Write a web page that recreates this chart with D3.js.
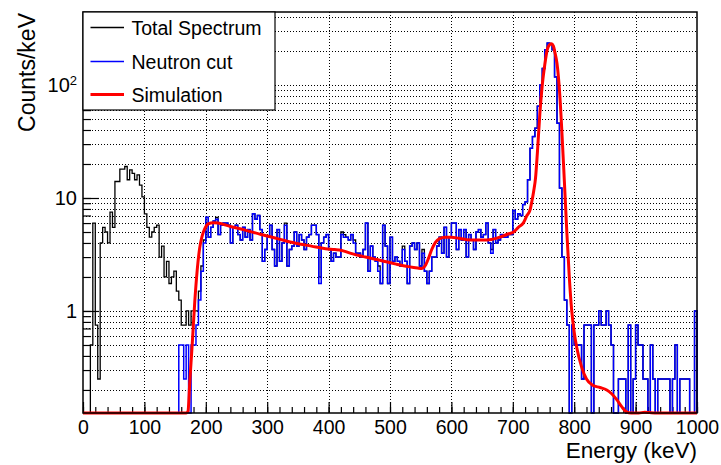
<!DOCTYPE html>
<html><head><meta charset="utf-8">
<script src="https://cdn.jsdelivr.net/npm/d3@7"></script>
<style>body{margin:0;background:#fff} svg{display:block} text{font-family:"Liberation Sans",Arial,Helvetica,sans-serif}</style>
</head><body><svg id="c" width="721" height="465"></svg>
<script>
// ---- data (counts/keV, 4 keV bins from 0 to 1000 keV) ----
const binWidth = 4;
const totalSpectrum = [
0,0,0,0.5,6.0,0.75,0.25,4.0,5.5,5.0, 4.0,7.5,5.5,14,14,18,18,19,14.5,17.75,
16.5,14.5,16,13,10.25,7.25,5.5,4.5,5.0,5.5, 5.75,3.0,3.75,2.0,2.75,1.75,2.0,2.25,1.5,1.25,
0.75,0.75,1.0,0.75,1.0,1.0,1.0,1.5,2.5,4.25, 6.75,4.5,5.5,6.25,6.75,4.75,5.75,6.0,6.0,5.75,
4.0,5.5,5.75,4.75,4.25,5.5,4.5,5.25,4.25,7.25, 6.5,7.0,5.25,2.75,3.5,4.5,5.75,3.5,2.5,5.25,
2.75,4.0,6.0,2.5,3.5,3.75,5.0,3.75,4.75,4.25, 3.5,4.5,4.75,5.75,5.75,4.75,2.0,4.0,4.5,4.75,
3.5,2.75,3.25,3.0,3.0,5.0,4.75,4.5,4.25,4.75, 4.25,3.25,3.25,3.0,3.5,6.0,2.25,3.75,3.0,2.75,
2.5,1.75,5.75,3.75,1.75,4.5,2.75,3.0,2.75,2.5, 3.75,2.75,1.75,3.75,4.0,3.5,4.0,2.5,3.5,2.25,
1.75,2.25,3.0,3.0,3.75,4.5,3.25,5.5,3.0,4.5, 6.0,6.0,3.5,5.25,4.25,5.25,3.0,4.75,4.25,3.5,
5.0,5.25,4.5,4.75,6.0,4.0,3.5,5.25,4.0,4.25, 4.75,4.5,4.5,4.75,4.75,7.75,6.5,7.25,7.0,8.75,
9.25,14.5,27.5,35,41.5,65,100,140,205,235, 232,205,118,46,12.25,3.0,1.25,0.75,0,0.75,
0.5,0.5,0.5,0.25,0.75,0.75,0.75,0,0.75,0.75, 1.0,0.75,0.75,1.0,0.75,0.5,0,0,0.25,0.25,
0.25,0,0.75,0,0.25,0.75,0.5,0.5,0.25,0.25, 0,0.5,0.25,0,0.25,0.25,0.25,0.25,0.25,0,
0.25,0.5,0,0.25,0.25,0.25,0.25,0,0,1.0
];
const neutronCut = [
0,0,0,0,0,0,0,0,0,0, 0,0,0,0,0,0,0,0,0,0,
0,0,0,0,0,0,0,0,0,0, 0,0,0,0,0,0,0,0,0,0.5,
0.5,0.25,0.5,0,0.5,0.5,0.75,1.25,2.25,4.0, 6.75,4.5,5.5,6.25,6.5,4.75,5.75,6.0,6.0,5.75,
4.0,5.5,5.75,4.75,4.25,5.5,4.5,5.25,4.25,7.25, 6.5,7.0,5.25,2.75,3.5,4.5,5.75,3.5,2.5,5.25,
2.75,4.0,5.75,2.5,3.5,3.75,5.0,3.75,4.75,4.25, 3.5,4.5,4.75,5.75,5.75,4.75,1.75,4.0,4.5,4.75,
3.5,2.75,3.25,3.0,3.0,4.75,4.5,4.5,4.25,4.75, 4.0,3.25,3.25,3.0,3.5,6.0,2.25,3.75,3.0,2.75,
2.25,1.75,5.75,3.75,1.75,4.5,2.75,3.0,2.75,2.5, 3.5,2.75,1.75,3.75,4.0,3.5,4.0,2.5,3.25,2.25,
1.75,2.25,3.0,3.0,3.75,4.5,3.25,5.5,3.0,4.5, 6.0,6.0,3.5,5.25,4.25,5.25,3.0,4.75,4.25,3.5,
5.0,5.25,4.5,4.75,6.0,4.0,3.25,5.25,4.0,4.25, 4.75,4.5,4.5,4.75,4.75,7.75,6.5,7.25,7.0,8.75,
9.25,14.5,27.5,35,41.5,65,100,140,205,235, 232,205,118,46,12.25,3.0,1.25,0.75,0,0.75,
0.5,0.5,0.5,0.25,0.75,0.75,0.75,0,0.75,0.75, 1.0,0.75,0.75,1.0,0.75,0.5,0,0,0.25,0.25,
0.25,0,0.75,0,0.25,0.75,0.5,0.5,0.25,0.25, 0,0.5,0.25,0,0.25,0.25,0.25,0.25,0.25,0,
0.25,0.5,0,0.25,0.25,0.25,0.25,0,0,1.0
];
const simEnergy = [0,168,171,174,178,182,186,190,194,198,204,212,220,240,264,290,318,345,372,395,410,420,435,460,485,510,530,545,552,558,563,568,574,580,590,600,612,625,640,652,665,679,692,701,709,717,723,728,731,734,737,740,744,748,752,756,760,763,766,769,772,776,780,784,788,792,796,800,804,812,820,830,842,853,861,869,877,885,893,905,915,923,935,950,1000];
const simValue = [0.1,0.1,0.13,0.24,0.52,1.2,2.3,3.6,4.6,5.3,5.9,6.05,6.0,5.6,5.2,4.75,4.35,4.0,3.75,3.55,3.5,3.45,3.25,3.0,2.8,2.6,2.47,2.4,2.38,2.55,2.95,3.5,4.05,4.35,4.5,4.5,4.4,4.28,4.25,4.25,4.3,4.5,4.8,5.0,5.5,6.0,7.0,7.8,9.3,11.5,15,25,55,100,150,205,228,232,222,190,155,90,38,14,5.0,2.0,1.0,0.65,0.48,0.32,0.25,0.22,0.21,0.2,0.185,0.165,0.143,0.128,0.118,0.115,0.127,0.126,0.118,0.1,0.1];
const xMajorTicks = [0,100,200,300,400,500,600,700,800,900,1000];
const yMajorTicks = [1,10,100];
const legendLabels = ["Total Spectrum","Neutron cut","Simulation"];
const legendColors = ["#000000","#0000ff","#ff0000"];

// ---- layout ----
const L=83,R=697,T=12,B=413;
const yMin=0.125,yMax=443;
const x=d3.scaleLinear().domain([0,1000]).range([L,R]);
const y=d3.scaleLog().domain([yMin,yMax]).range([B,T]);
const yc=v=>y(Math.max(v,yMin));
const svg=d3.select("#c");

// grid
const xMinor=d3.range(0,1001,20);
const yMinor=[];
for(let d=-1;d<=2;d++)for(let k=1;k<=9;k++){const v=k*Math.pow(10,d);if(v>yMin*1.01&&v<yMax)yMinor.push(v);}
const grid=svg.append("g").attr("stroke","#000").attr("stroke-width",1).attr("stroke-dasharray","1,2");
grid.selectAll("line.gx").data(xMajorTicks.filter(t=>t>0&&t<1000)).join("line").attr("class","gx")
 .attr("x1",d=>Math.round(x(d))+0.5).attr("x2",d=>Math.round(x(d))+0.5).attr("y1",T).attr("y2",B);
grid.selectAll("line.gy").data(yMinor).join("line").attr("class","gy")
 .attr("y1",d=>Math.round(y(d))+0.5).attr("y2",d=>Math.round(y(d))+0.5).attr("x1",L).attr("x2",R);

// axes
const gx=svg.append("g").attr("transform",`translate(0,${B})`);
gx.append("g").call(d3.axisBottom(x).tickValues(xMinor).tickSize(-6).tickFormat(""));
gx.append("g").call(d3.axisBottom(x).tickValues(xMajorTicks).tickSize(-11).tickPadding(7).tickFormat(d3.format("d")));
gx.selectAll(".domain").remove();
gx.selectAll("line").attr("stroke","#000").attr("stroke-width",1.2);
gx.selectAll("text").attr("font-size",19.5).attr("fill","#000").style("font-family",'"Liberation Sans",Arial,sans-serif');

const gy=svg.append("g").attr("transform",`translate(${L},0)`);
gy.append("g").call(d3.axisLeft(y).tickValues(yMinor).tickSize(-8).tickFormat(""));
gy.append("g").call(d3.axisLeft(y).tickValues(yMajorTicks).tickSize(-16).tickPadding(6).tickFormat(""));
gy.selectAll(".domain").remove();
gy.selectAll("line").attr("stroke","#000").attr("stroke-width",1.2);
yMajorTicks.forEach(v=>{
  const exp=Math.round(Math.log10(v));
  const t=svg.append("text").attr("x",77).attr("y",y(v)).attr("dy","0.35em").attr("text-anchor","end").attr("font-size",20).attr("fill","#000");
  if(exp<2){t.text(String(v));}
  else{t.append("tspan").text("10");t.append("tspan").attr("font-size",13).attr("dy","-0.55em").text(String(exp));}
});

// histograms
function stepPts(arr){
  const pts=[[0,yMin]];
  arr.forEach((v,i)=>pts.push([i*binWidth,v]));
  pts.push([arr.length*binWidth,arr[arr.length-1]]);
  pts.push([arr.length*binWidth,yMin]);
  return pts;
}
const stepLine=d3.line().x(d=>x(d[0])).y(d=>yc(d[1])).curve(d3.curveStepAfter);
svg.append("path").attr("d",stepLine(stepPts(totalSpectrum))).attr("fill","none").attr("stroke","#000").attr("stroke-width",1.3);
svg.append("path").attr("d",stepLine(stepPts(neutronCut))).attr("fill","none").attr("stroke","#0000ff").attr("stroke-width",1.5);

// simulation
const simLine=d3.line().x(d=>x(d[0])).y(d=>yc(d[1])).curve(d3.curveMonotoneX);
svg.append("path").attr("d",simLine(simEnergy.map((e,i)=>[e,simValue[i]]))).attr("fill","none").attr("stroke","#ff0000").attr("stroke-width",3).attr("stroke-linejoin","round");

// frame
svg.append("rect").attr("x",L).attr("y",T).attr("width",R-L).attr("height",B-T).attr("fill","none").attr("stroke","#000").attr("stroke-width",1.5);

// legend
const lg=svg.append("g");
lg.append("rect").attr("x",83).attr("y",12).attr("width",192).attr("height",98).attr("fill","#fff").attr("stroke","#000").attr("stroke-width",1.2);
const rowsY=[27.5,61.5,94.5];
legendLabels.forEach((s,i)=>{
  lg.append("line").attr("x1",90.5).attr("x2",124).attr("y1",rowsY[i]).attr("y2",rowsY[i])
    .style("stroke",legendColors[i]).style("stroke-width",i==2?3:1.5);
  lg.append("text").attr("x",131.5).attr("y",rowsY[i]+7).attr("font-size",19.5).attr("fill","#000").text(s);
});

// axis titles
svg.append("text").attr("x",697).attr("y",458).attr("text-anchor","end").attr("font-size",22.5).attr("fill","#000").text("Energy (keV)");
svg.append("text").attr("transform","translate(35,13) rotate(-90)").attr("text-anchor","end").attr("font-size",23).attr("fill","#000").text("Counts/keV");
</script></body></html>
